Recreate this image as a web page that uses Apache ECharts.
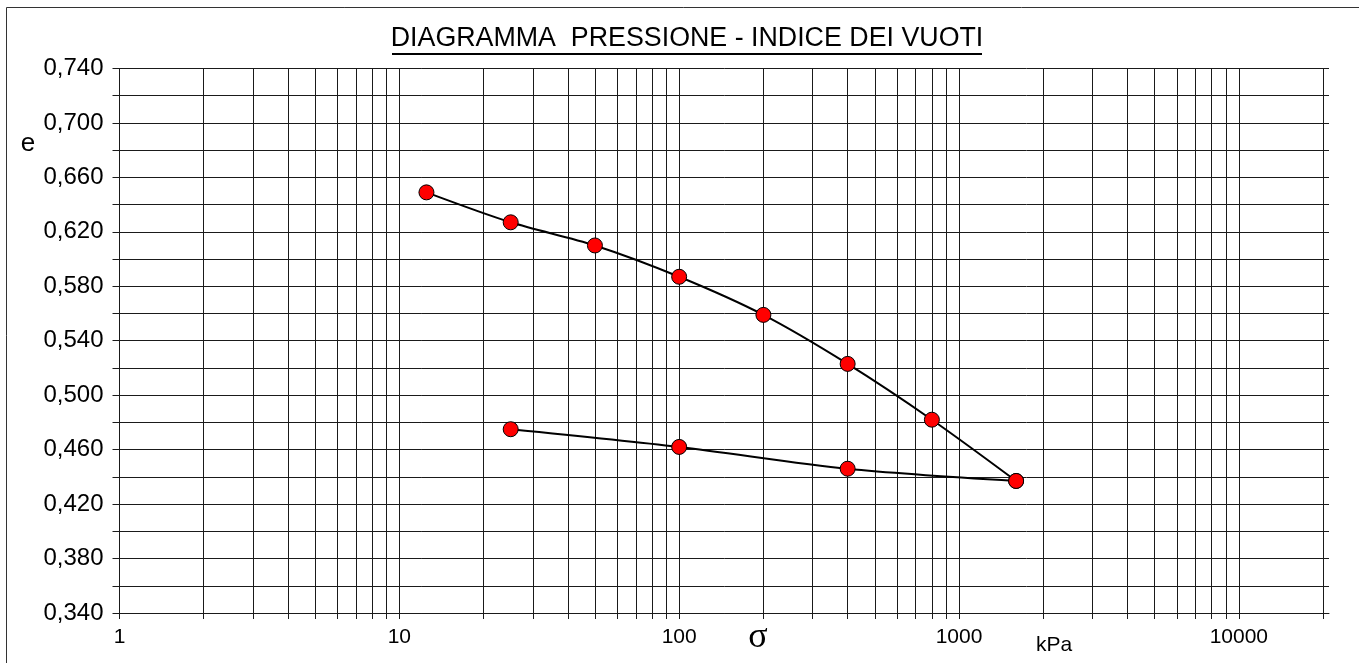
<!DOCTYPE html>
<html>
<head>
<meta charset="UTF-8">
<title>Diagramma pressione - indice dei vuoti</title>
<style type="text/css">
	* { margin: 0; padding: 0; }
	html, body { background: #fff; }
	#chart { width: 1359px; height: 663px; }
</style>
</head>
<body>
<div id="chart"></div>
<script src="https://cdn.jsdelivr.net/npm/echarts@6/dist/echarts.min.js"></script>
<script type="text/javascript">
	// dati
	var caricoP = [12.5, 25, 50, 100, 200, 400, 800, 1600];
	var caricoE = [0.649, 0.627, 0.610, 0.587, 0.559, 0.523, 0.482, 0.437];
	var scaricoP = [1600, 400, 100, 25];
	var scaricoE = [0.437, 0.446, 0.462, 0.475];
	var xLabels = [1, 10, 100, 1000, 10000];
	var xGrid = [1, 2, 3, 4, 5, 6, 7, 8, 9, 10, 20, 30, 40, 50, 60, 70, 80, 90,
		100, 200, 300, 400, 500, 600, 700, 800, 900, 1000, 2000, 3000, 4000, 5000,
		6000, 7000, 8000, 9000, 10000, 20000];

	function pairs(xs, ys) {
		var out = [];
		for (var i = 0; i < xs.length; i++) out.push([xs[i], ys[i]]);
		return out;
	}

	var font = '"Liberation Sans", Arial, sans-serif';
	var nero = '#1a1a1a';

	var chart = echarts.init(document.getElementById('chart'));
	chart.setOption({
		animation: false,
		grid: { left: 119.5, right: 30, top: 68.5, bottom: 50 },
		xAxis: {
			type: 'log',
			logBase: 10,
			min: 1,
			max: 21000,
			axisLine: { show: true, lineStyle: { color: nero, width: 1 } },
			axisTick: { show: true, length: 6, customValues: xGrid, lineStyle: { color: nero } },
			axisLabel: {
				customValues: xLabels,
				margin: 14,
				color: '#000',
				fontFamily: font,
				fontSize: 21,
				formatter: function (v) { return String(Math.round(v)); }
			},
			splitLine: { show: true, lineStyle: { color: nero, width: 1 } }
		},
		yAxis: {
			type: 'value',
			min: 0.34,
			max: 0.74,
			interval: 0.02,
			axisLine: { show: true, lineStyle: { color: nero } },
			axisTick: { show: true, length: 7, lineStyle: { color: nero } },
			axisLabel: {
				margin: 16,
				color: '#000',
				fontFamily: font,
				fontSize: 24,
				formatter: function (v) {
					// etichette solo ogni 0,040
					if (Math.round(v * 1000) % 40 !== 20) return '';
					return v.toFixed(3).replace('.', ',');
				}
			},
			splitLine: { show: true, lineStyle: { color: nero, width: 1 } }
		},
		series: [{
			name: 'carico',
			type: 'line',
			smooth: 0.3,
			data: pairs(caricoP, caricoE),
			symbol: 'circle',
			symbolSize: 15,
			lineStyle: { color: '#000', width: 2 },
			itemStyle: { color: '#ff0000', borderColor: '#000', borderWidth: 1 },
			z: 5
		}, {
			name: 'scarico',
			type: 'line',
			smooth: 0.3,
			data: pairs(scaricoP, scaricoE),
			symbol: 'circle',
			symbolSize: 15,
			lineStyle: { color: '#000', width: 2 },
			itemStyle: { color: '#ff0000', borderColor: '#000', borderWidth: 1 },
			z: 5
		}],
		graphic: [{
			type: 'rect',
			shape: { x: 6.5, y: 7.5, width: 1420, height: 720 },
			style: { fill: 'none', stroke: '#333', lineWidth: 1 },
			silent: true
		}, {
			type: 'text',
			x: 687, y: 38.5,
			style: {
				text: 'DIAGRAMMA  PRESSIONE - INDICE DEI VUOTI',
				fill: '#000', font: '26.8px ' + font,
				align: 'center', verticalAlign: 'middle'
			}
		}, {
			type: 'line',
			shape: { x1: 392, y1: 54, x2: 982, y2: 54 },
			style: { stroke: '#000', lineWidth: 2 }
		}, {
			type: 'text',
			x: 28, y: 144,
			style: { text: 'e', fill: '#000', font: '26px ' + font, align: 'center', verticalAlign: 'middle' }
		}, {
			type: 'text',
			x: 758, y: 638,
			style: { text: 'σ', fill: '#000', font: '36px "Liberation Serif", "Times New Roman", serif', align: 'center', verticalAlign: 'middle' }
		}, {
			type: 'text',
			x: 1054, y: 645,
			style: { text: 'kPa', fill: '#000', font: '21px ' + font, align: 'center', verticalAlign: 'middle' }
		}]
	});
</script>
</body>
</html>
